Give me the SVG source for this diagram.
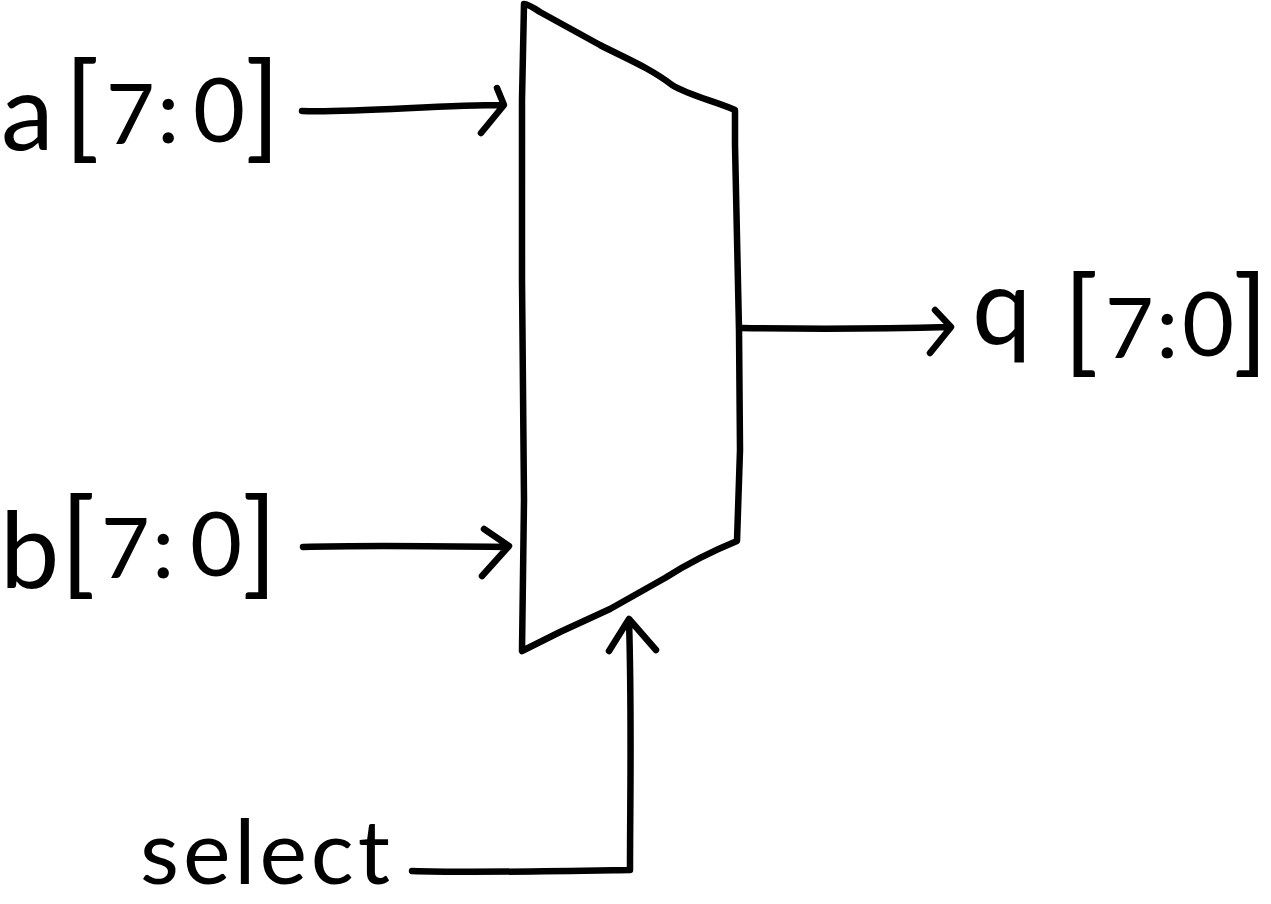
<svg xmlns="http://www.w3.org/2000/svg" width="1271" height="904" viewBox="0 0 1271 904">
<style>
.s{fill:none;stroke:#000;stroke-width:6.5;stroke-linecap:round;stroke-linejoin:round}
text{font-family:"Lato","Open Sans",sans-serif;fill:#000;font-weight:400}
.l{font-size:106px}
.b{font-size:116px}
.d{font-size:90px}
.n{font-size:84px}
.sel{font-size:90px}
</style>
<rect width="1271" height="904" fill="#fff"/>
<g id="mux"><path class="s" d="M524 4C528 4 534 8 540 12L600 45C625 58 650 68 672 85C690 96 715 101 735 110L735 145L739 330L740 450L737 541C715 550 690 562 665 578L610 609L560 632L522 651L524 500L522 280L522 100Z"/></g>
<g id="connectors">
<path class="s" d="M302 111C350 113 440 105 502 105M497 88L504 105L481 133"/>
<path class="s" d="M303 547C360 545 440 546 508 547M484 529L509 546L482 576"/>
<path class="s" d="M741 328C800 329 880 329 950 327M935 310L951 327L930 353"/>
<path class="s" d="M412 871C470 873 570 871 630 870C630 800 632 720 629 620M609 651L629 619L656 650"/>
</g>
<g id="label-a"><text><tspan class="l" x="1" y="150">a</tspan><tspan class="b" x="64" y="146">[</tspan><tspan class="n" x="106" y="144">7</tspan><tspan class="d" x="157" y="143">:</tspan><tspan class="d" x="193" y="142">0</tspan><tspan class="b" x="245" y="146">]</tspan></text></g>
<g id="label-b"><text><tspan class="l" x="0" y="588">b</tspan><tspan class="b" x="60" y="582">[</tspan><tspan class="n" x="101" y="578">7</tspan><tspan class="d" x="152" y="578">:</tspan><tspan class="d" x="190" y="576">0</tspan><tspan class="b" x="242" y="582">]</tspan></text></g>
<g id="label-q"><text><tspan class="l" x="972" y="344">q</tspan><tspan class="b" x="1063" y="360">[</tspan><tspan class="n" x="1105" y="358">7</tspan><tspan class="d" x="1156" y="358">:</tspan><tspan class="d" x="1182" y="356">0</tspan><tspan class="b" x="1233" y="360">]</tspan></text></g>
<g id="label-select"><text class="sel" x="140" y="884" textLength="250">select</text></g>
</svg>
